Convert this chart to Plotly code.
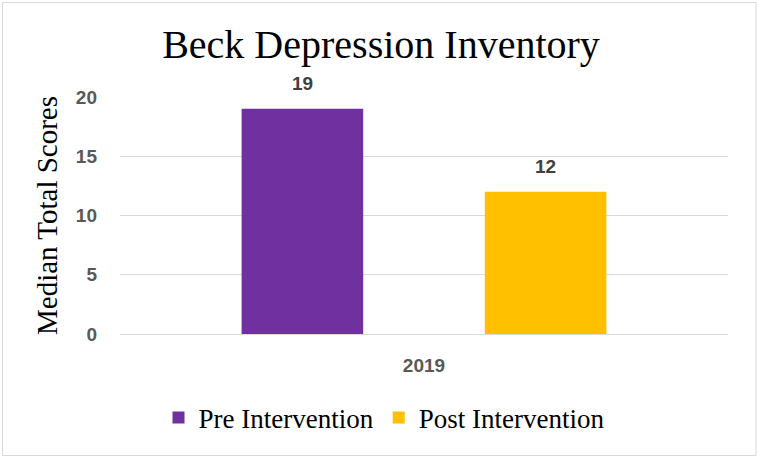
import plotly.graph_objects as go

categories = ["2019"]
series_names = ["Pre Intervention", "Post Intervention"]
pre_values = [19]
post_values = [12]
colors = ["#7030A0", "#FFC000"]
y_ticks = [0, 5, 10, 15, 20]

W, H = 758, 458
L, R, T, B = 120, 30, 97, 124

offsets = [-0.3, 0.1]
bar_w = 0.2

fig = go.Figure()
for name, vals, col, off in zip(series_names, [pre_values, post_values], colors, offsets):
    fig.add_trace(go.Bar(
        x=categories, y=vals, name=name, marker=dict(color=col, line=dict(width=0)),
        offset=off, width=bar_w,
    ))
    for c, v in zip(categories, vals):
        fig.add_annotation(
            x=categories.index(c) + off + bar_w / 2, y=v, xref="x", yref="y",
            text=f"<b>{v}</b>", showarrow=False, yanchor="bottom", yshift=13,
            font=dict(family="Liberation Sans", size=19, color="#404040"),
        )

pw = W - L - R
ph = H - T - B
fig.add_shape(
    type="rect", xref="paper", yref="paper",
    x0=(2.5 - L) / pw, x1=(756 - L) / pw,
    y0=(H - B - 455.5) / ph, y1=(H - B - 2.5) / ph,
    line=dict(color="#d9d9d9", width=1), fillcolor="rgba(0,0,0,0)", layer="below",
)

fig.update_layout(
    width=W, height=H,
    margin=dict(l=L, r=R, t=T, b=B),
    paper_bgcolor="white", plot_bgcolor="white",
    barmode="overlay",
    title=dict(
        text="Beck Depression Inventory", x=381 / W, xanchor="center",
        yref="container", y=1 - 44 / H, yanchor="middle",
        font=dict(family="Liberation Serif", size=40, color="#000000"),
    ),
    legend=dict(
        orientation="h", xref="container", yref="container",
        x=384 / W, xanchor="center", y=1 - 418 / H, yanchor="middle",
        font=dict(family="Liberation Serif", size=27, color="#000000"),
        itemclick=False,
    ),
    showlegend=True,
)

fig.update_xaxes(
    type="category", range=[-0.5, 0.5], showgrid=False,
    showline=True, linecolor="#d9d9d9", linewidth=1,
    ticks="", ticklabelstandoff=14,
    tickfont=dict(family="Liberation Sans", size=19, color="#595959", weight="bold"),
)
fig.update_yaxes(
    range=[0, 20], tickvals=y_ticks, showgrid=True, gridcolor="#d9d9d9", gridwidth=1,
    zeroline=False, showline=False, ticks="", ticklabelstandoff=22,
    tickfont=dict(family="Liberation Sans", size=19, color="#595959", weight="bold"),
    title=dict(text="Median Total Scores", standoff=9,
               font=dict(family="Liberation Serif", size=29, color="#000000")),
)

fig.write_html("out.html")
